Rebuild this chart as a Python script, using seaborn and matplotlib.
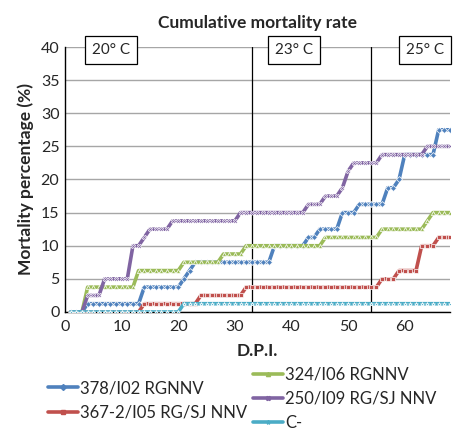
import matplotlib
matplotlib.use("Agg")
import matplotlib.pyplot as plt
from matplotlib.lines import Line2D
import pandas as pd
import seaborn as sns

# data (one value per day, 1..68)
days = list(range(1, 69))

blue_378 = ([0] * 3 + [1.25] * 10 + [3.75] * 7 + [5, 6.25] + [7.5] * 14 + [10] * 6
            + [11.25] * 2 + [12.5] * 4 + [15] * 3 + [16.25] * 5 + [18.75] * 2 + [20]
            + [23.75] * 6 + [27.5] * 3)
red_367 = ([0] * 13 + [1.25] * 10 + [2.5] * 8 + [3.75] * 24 + [5] * 3 + [6.25] * 4
           + [10] * 3 + [11.25] * 3)
green_324 = ([0] * 3 + [3.75] * 9 + [6.25] * 8 + [7.5] * 7 + [8.75] * 4 + [10] * 14
             + [11.25] * 10 + [12.5] * 8 + [13.75] + [15] * 4)
purple_250 = ([0] * 3 + [2.5] * 3 + [5] * 5 + [10] * 2 + [11.25] + [12.5] * 4
              + [13.75] * 12 + [15] * 12 + [16.25] * 3 + [17.5] * 3 + [18.75, 21.25]
              + [22.5] * 5 + [23.75] * 8 + [25] * 5)
control = [0] * 20 + [1.25] * 48

names = ["378/I02 RGNNV", "367-2/I05 RG/SJ NNV", "324/I06 RGNNV",
         "250/I09 RG/SJ NNV", "C-"]
series = [blue_378, red_367, green_324, purple_250, control]
colors = ["#4F81BD", "#C0504D", "#9BBB59", "#8064A2", "#4BACC6"]
markers = ["D", "s", "^", "X", "*"]

temp_lines = [33, 54]
temp_labels = ["20° C", "23° C", "25° C"]
temp_label_x = [8.2, 40.4, 63.6]

df = pd.concat([pd.DataFrame({"D.P.I.": days, "Mortality": s, "Strain": n})
                for n, s in zip(names, series)], ignore_index=True)

sns.set_style("white")
plt.rcParams["font.family"] = ["Lato", "DejaVu Sans"]

fig = plt.figure(figsize=(4.62, 4.32), dpi=100)
ax = fig.add_axes([0.1407, 0.2778, 0.8333, 0.6134])

sns.lineplot(data=df, x="D.P.I.", y="Mortality", hue="Strain", style="Strain",
             palette=dict(zip(names, colors)), markers=dict(zip(names, markers)),
             dashes=False, linewidth=2.6, markersize=3, markeredgewidth=0.5,
             legend=False, ax=ax, zorder=3)

ax.set_xlim(0, 68)
ax.set_ylim(0, 40)
ax.set_xticks(range(0, 61, 10))
ax.set_xticks(range(0, 68, 5), minor=True)
ax.set_yticks(range(0, 41, 5))
ax.tick_params(axis="x", which="both", direction="out", length=4, width=0.8,
               color="black", labelsize=11.5, pad=2)
ax.tick_params(axis="y", length=0, labelsize=11.5, pad=4)
ax.yaxis.grid(True, color="#A6A6A6", linewidth=1)
ax.xaxis.grid(False)
for side in ["top", "right"]:
    ax.spines[side].set_visible(False)
for side in ["left", "bottom"]:
    ax.spines[side].set_color("black")
    ax.spines[side].set_linewidth(1)

for x in temp_lines:
    ax.axvline(x, color="black", linewidth=0.9, zorder=2)
for x, t in zip(temp_label_x, temp_labels):
    ax.text(x, 39.6, t, ha="center", va="center", fontsize=11, zorder=5,
            bbox=dict(boxstyle="square,pad=0.45", fc="white", ec="black", lw=0.9))

ax.set_title("Cumulative mortality rate", fontsize=12.5, fontweight="bold", pad=14)
ax.set_xlabel("D.P.I.", fontsize=12.5, fontweight="bold", labelpad=6)
ax.set_ylabel("Mortality percentage (%)", fontsize=12.5, fontweight="bold", labelpad=5)

handles = [Line2D([], [], color=c, marker=m, markersize=3, linewidth=2.6)
           for c, m in zip(colors, markers)]
kw = dict(frameon=False, fontsize=12, handlelength=1.8, handletextpad=0.1,
          labelspacing=0.5, borderaxespad=0, borderpad=0, loc="upper left")
leg1 = fig.legend(handles[:2], names[:2], bbox_to_anchor=(0.104, 0.12), **kw)
leg2 = fig.legend(handles[2:], names[2:], bbox_to_anchor=(0.548, 0.152), **kw)

fig.savefig("out.png", dpi=100)
